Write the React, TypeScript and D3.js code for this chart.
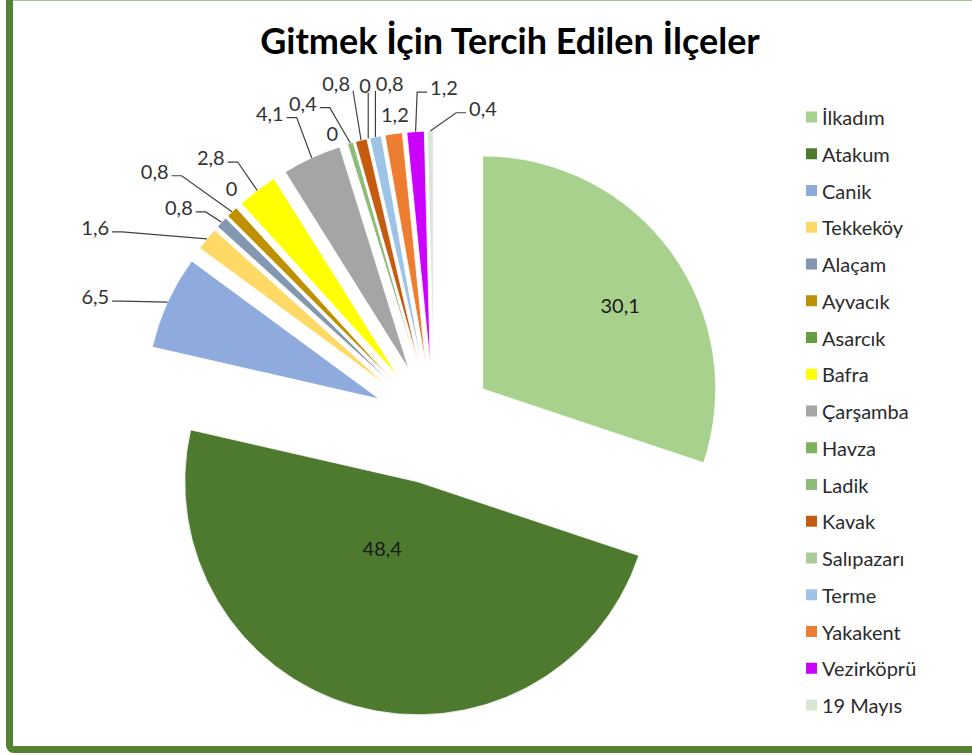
import React from "react";
import * as d3 from "d3";

const categories = [
  "İlkadım", "Atakum", "Canik", "Tekkeköy", "Alaçam", "Ayvacık", "Asarcık", "Bafra",
  "Çarşamba", "Havza", "Ladik", "Kavak", "Salıpazarı", "Terme", "Yakakent", "Vezirköprü", "19 Mayıs",
];
const values = [30.1, 48.4, 6.5, 1.6, 0.8, 0.8, 0, 2.8, 4.1, 0, 0.4, 0.8, 0, 0.8, 1.2, 1.2, 0.4];
const colors = [
  "#A9D18E", "#4E7A30", "#8FAADC", "#FFD966", "#8497B0", "#BF9000", "#659D45", "#FFFF00",
  "#A5A5A5", "#7DB35D", "#8DBB78", "#C55A11", "#ABCB9D", "#9DC3E6", "#ED7D31", "#CC00FF", "#DAE6D5",
];
const title = "Gitmek İçin Tercih Edilen İlçeler";

// label layout (polar position around pie centre: angle in degrees clockwise from 12 o'clock, radius px)
const labelAngle = [57.4, 202.7, 290.7, 300.2, 310.4, 312.2, 319.4, 320.1, 332.2, 340.7, 337.8, 344.0, 348.5, 352.6, 352.8, 1.7, 8.8];
const labelRadius = [221, 134, 362, 392, 335, 377, 311, 348, 352, 308, 347, 355, 346, 344, 312, 337, 320];
const leaderMode = ["none", "none", "side", "side", "side", "side", "none", "side", "side", "none", "side", "below", "below", "below", "none", "side", "side"];

const W = 972;
const H = 755;
const CX = 434;
const CY = 424;
const R = 233;
const EXPLODE = 60;
const FONT = "Lato, 'Open Sans', sans-serif";

function fmt(v: number) {
  return String(v).replace(".", ",");
}

let ctx: CanvasRenderingContext2D | null = null;
function textWidth(s: string, size: number) {
  if (!ctx) {
    const c = document.createElement("canvas");
    ctx = c.getContext("2d");
  }
  if (!ctx) return s.length * size * 0.5;
  ctx.font = `${size}px Lato`;
  return ctx.measureText(s).width;
}

export default function App() {
  const pie = d3.pie<number>().sort(null).value((d) => d).startAngle(0).endAngle(2 * Math.PI);
  const arcs = pie(values);
  const arc = d3.arc<d3.PieArcDatum<number>>().innerRadius(0).outerRadius(R);

  const dir = (a: number) => [Math.sin(a), -Math.cos(a)];

  const legendX = 806;
  const legendY0 = 117;
  const legendStep = 36.75;

  return (
    <svg width={W} height={H} style={{ position: "absolute", left: 0, top: 0, background: "#fff" }}>
      <rect x={0} y={0} width={W} height={H} fill="#fff" />
      <rect x={9.5} y={-3} width={W + 20} height={752.5} rx={4} fill="none" stroke="#548235" strokeWidth={7} />
      <text x={510} y={54} textAnchor="middle" fontFamily={FONT} fontWeight={700} fontSize={36} fill="#000">
        {title}
      </text>
      <g>
        {arcs.map((a, i) => {
          const mid = (a.startAngle + a.endAngle) / 2;
          const [ux, uy] = dir(mid);
          return (
            <path
              key={categories[i]}
              d={arc(a) || ""}
              transform={`translate(${CX + ux * EXPLODE},${CY + uy * EXPLODE})`}
              fill={colors[i]}
              stroke="#fff"
              strokeWidth={0.8}
            />
          );
        })}
      </g>
      <g>
        {arcs.map((a, i) => {
          const mid = (a.startAngle + a.endAngle) / 2;
          const la = (labelAngle[i] * Math.PI) / 180;
          const [lx, ly] = dir(la);
          const cx = CX + lx * labelRadius[i];
          const cy = CY + ly * labelRadius[i];
          const label = fmt(values[i]);
          const w = textWidth(label, 20);
          const [tx, ty] = dir(mid);
          const Tx = CX + tx * (R + EXPLODE);
          const Ty = CY + ty * (R + EXPLODE);
          let leader: string | null = null;
          if (leaderMode[i] === "side") {
            if (cx < Tx) {
              const sx = cx + w / 2 + 3;
              const sy = cy + 5;
              leader = `M${sx},${sy}L${sx + 10},${sy}L${Tx},${Ty}`;
            } else {
              const sx = cx - w / 2 - 3;
              const sy = cy + 5;
              leader = `M${sx},${sy}L${sx - 10},${sy}L${Tx},${Ty}`;
            }
          } else if (leaderMode[i] === "below") {
            const sx = Math.max(cx - w / 2 - 1, Math.min(cx + w / 2 + 3, Tx));
            const sy = cy + 8;
            leader = `M${sx},${sy}L${Tx},${Ty}`;
          }
          return (
            <g key={categories[i]}>
              {leader && <path d={leader} fill="none" stroke="#404040" strokeWidth={1.2} />}
              <text
                x={cx}
                y={cy}
                textAnchor="middle"
                dominantBaseline="central"
                fontFamily={FONT}
                fontSize={20}
                fill={i < 2 ? "#1a1a1a" : "#333"}
              >
                {label}
              </text>
            </g>
          );
        })}
      </g>
      <g>
        {categories.map((c, i) => (
          <g key={c} transform={`translate(${legendX},${legendY0 + i * legendStep})`}>
            <rect x={0} y={-5.5} width={11} height={11} fill={colors[i]} />
            <text x={16} y={0} dominantBaseline="central" fontFamily={FONT} fontSize={20} fill="#2b2b2b">
              {c}
            </text>
          </g>
        ))}
      </g>
    </svg>
  );
}
